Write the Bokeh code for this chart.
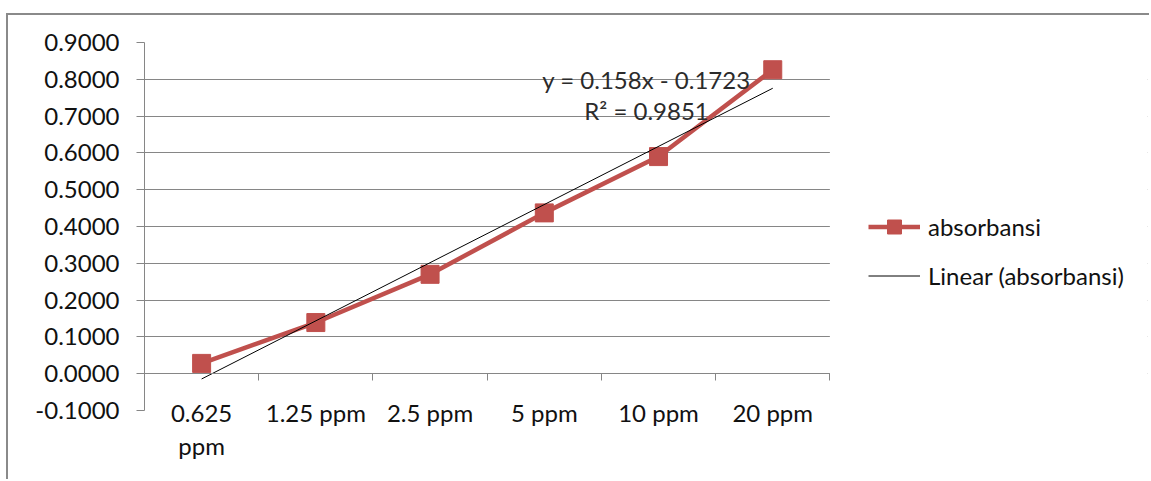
from bokeh.plotting import figure
from bokeh.models import (Range1d, LinearAxis, FixedTicker, Label, NumeralTickFormatter,
                          CustomJSTickFormatter, BoxAnnotation)
from bokeh.embed import file_html
from bokeh.resources import INLINE

# ---- data ----
categories = ["0.625 ppm", "1.25 ppm", "2.5 ppm", "5 ppm", "10 ppm", "20 ppm"]
tick_labels = ["0.625\nppm", "1.25 ppm", "2.5 ppm", "5 ppm", "10 ppm", "20 ppm"]
absorbansi = [0.028, 0.139, 0.270, 0.437, 0.590, 0.826]
trend_slope = 0.158
trend_intercept = -0.1723
r_squared = 0.9851
y_ticks = [-0.1, 0.0, 0.1, 0.2, 0.3, 0.4, 0.5, 0.6, 0.7, 0.8, 0.9]

n = len(categories)
xs = list(range(1, n + 1))
trend_x = [xs[0], xs[-1]]
trend_y = [trend_slope * v + trend_intercept for v in trend_x]
boundaries = [i + 0.5 for i in range(n + 1)]

FONT = "Lato"
FS = "24px"
TXT = "#111111"
GRID = "#868686"
RED = "#C0504D"

# layout: plot area 684px wide for the 6 categories, frame extended to the right for the legend
W, H = 1143, 466
MB_L, MB_R, MB_T, MB_B = 136, 4, 27, 71
frame_w = W - 2 - MB_L - MB_R
px_per_cat = 114
x_end = 0.5 + frame_w / px_per_cat

p = figure(width=W, height=H,
           x_range=Range1d(0.5, x_end), y_range=Range1d(y_ticks[0], y_ticks[-1]),
           output_backend="svg", toolbar_location=None,
           min_border_left=MB_L, min_border_right=MB_R, min_border_top=MB_T, min_border_bottom=MB_B,
           background_fill_color="white", border_fill_color="white", outline_line_color=None)
p.margin = (13, 0, 0, 6)
p.styles = {"border-top": "2px solid #8a8a8a", "border-left": "2px solid #8a8a8a"}

# y axis
p.yaxis.ticker = FixedTicker(ticks=y_ticks)
p.yaxis.formatter = NumeralTickFormatter(format="0.0000")
p.yaxis.major_tick_out = 8
p.yaxis.major_tick_in = 0
p.yaxis.minor_tick_line_color = None
p.yaxis.axis_line_color = GRID
p.yaxis.major_tick_line_color = GRID
p.yaxis.major_label_standoff = 17
p.yaxis.major_label_text_font = FONT
p.yaxis.major_label_text_font_size = FS
p.yaxis.major_label_text_color = TXT

# bottom category labels
p.xaxis.ticker = FixedTicker(ticks=xs)
p.xaxis.major_label_overrides = {x: lab for x, lab in zip(xs, tick_labels)}
p.xaxis.axis_line_color = None
p.xaxis.major_tick_line_color = None
p.xaxis.minor_tick_line_color = None
p.xaxis.major_label_standoff = -19
p.xaxis.major_label_text_font = FONT
p.xaxis.major_label_text_font_size = FS
p.xaxis.major_label_text_color = TXT
p.xaxis.major_label_text_line_height = 1.15

# grid (masked beyond the plot area, where the legend sits)
p.xgrid.grid_line_color = None
p.ygrid.ticker = FixedTicker(ticks=y_ticks)
p.ygrid.grid_line_color = GRID
p.add_layout(BoxAnnotation(left=n + 0.5, fill_color="white", fill_alpha=1.0,
                           line_color=None, level="underlay"))

# horizontal axis crossing at zero with category-boundary ticks
zero_axis = LinearAxis(fixed_location=0, ticker=FixedTicker(ticks=boundaries),
                       formatter=CustomJSTickFormatter(code="return ''"),
                       bounds=(0.5, n + 0.5), major_label_standoff=0,
                       major_tick_out=7, major_tick_in=0, minor_tick_line_color=None,
                       axis_line_color=GRID, major_tick_line_color=GRID)
p.add_layout(zero_axis, "below")

# series
p.line(xs, absorbansi, line_color=RED, line_width=4.5, legend_label="absorbansi")
p.scatter(xs, absorbansi, marker="square", size=18, fill_color=RED, line_color=RED,
          legend_label="absorbansi")
p.line(trend_x, trend_y, line_color="black", line_width=1, legend_label="Linear (absorbansi)")

# trendline equation
p.add_layout(Label(x=4.895, y=0.800, text=f"y = {trend_slope}x - {abs(trend_intercept)}",
                   text_align="center", text_baseline="middle", text_font=FONT,
                   text_font_size=FS, text_color="#2b2b2b"))
p.add_layout(Label(x=4.895, y=0.715, text=f"R² = {r_squared}",
                   text_align="center", text_baseline="middle", text_font=FONT,
                   text_font_size=FS, text_color="#2b2b2b"))

# legend
lg = p.legend[0]
lg.location = (724, 117)
lg.padding = 0
lg.margin = 0
lg.border_line_color = None
lg.background_fill_alpha = 0
lg.glyph_width = 52
lg.glyph_height = 35
lg.label_height = 35
lg.spacing = 14
lg.label_standoff = 8
lg.label_text_font = FONT
lg.label_text_font_size = FS
lg.label_text_color = TXT

open("out.html", "w").write(file_html(p, INLINE))
